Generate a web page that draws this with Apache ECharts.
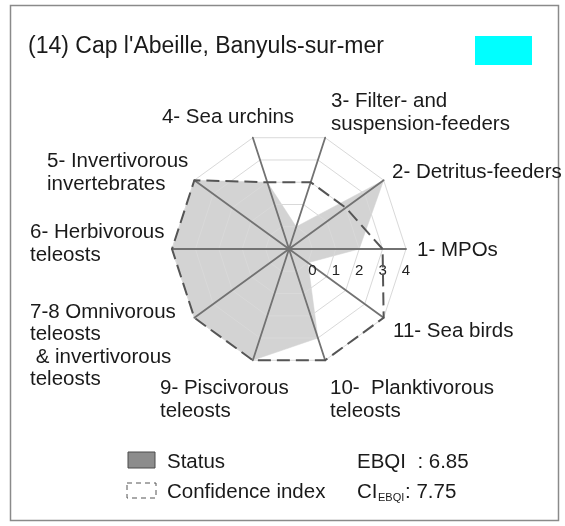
<!DOCTYPE html>
<html><head><meta charset="utf-8">
<script src="https://cdn.jsdelivr.net/npm/echarts@6/dist/echarts.min.js"></script>
<style>html,body{margin:0;padding:0;background:#fff}#c{width:565px;height:526px}</style>
</head><body><div id="c"></div>
<script>
// ---- data ----
const categories = ['1- MPOs', '2- Detritus-feeders', '3- Filter- and\nsuspension-feeders', '4- Sea urchins',
  '5- Invertivorous\ninvertebrates', '6- Herbivorous\nteleosts',
  '7-8 Omnivorous\nteleosts\n & invertivorous\nteleosts', '9- Piscivorous\nteleosts',
  '10-  Planktivorous\nteleosts', '11- Sea birds'];
const statusValues = [2, 4, 0, 2, 4, 4, 4, 4, 3, 0];
const confidenceValues = [3, 2, 2, 2, 4, 4, 4, 4, 4, 4];
const tickLabels = ['0', '1', '2', '3', '4'];
const titleText = "(14) Cap l'Abeille, Banyuls-sur-mer";
const ebqiValue = '6.85';
const ciEbqiValue = '7.75';

// ---- layout ----
const FF = "'Liberation Sans', Arial, sans-serif";
const LF = '20.5px ' + FF;
const labelPos = [
  [417, 250, 'left'], [392, 172, 'left'], [331, 113, 'left'], [228, 117, 'center'],
  [47, 173, 'left'], [30, 244, 'left'], [30, 346, 'left'], [160, 400, 'left'],
  [330, 400, 'left'], [393, 331, 'left']
];

const chart = echarts.init(document.getElementById('c'), null, {renderer: 'canvas'});
const graphics = [
  {type: 'rect', shape: {x: 10.5, y: 5.5, width: 548, height: 515}, style: {fill: null, stroke: '#8a8a8a', lineWidth: 1.5}, z: 0},
  {type: 'text', x: 28, y: 47, style: {text: titleText, font: '23px ' + FF, fill: '#1a1a1a', verticalAlign: 'middle'}},
  {type: 'rect', shape: {x: 475, y: 36, width: 57, height: 29}, style: {fill: '#00ffff'}},
  // legend
  {type: 'rect', shape: {x: 128, y: 452, width: 27, height: 16}, style: {fill: '#8c8c8c', stroke: '#4a4a4a', lineWidth: 1}},
  {type: 'rect', shape: {x: 127, y: 483, width: 29, height: 15}, style: {fill: null, stroke: '#555', lineWidth: 1, lineDash: [5, 4]}},
  {type: 'text', x: 167, y: 462, style: {text: 'Status', font: LF, fill: '#1a1a1a', verticalAlign: 'middle'}},
  {type: 'text', x: 167, y: 492, style: {text: 'Confidence index', font: LF, fill: '#1a1a1a', verticalAlign: 'middle'}},
  {type: 'text', x: 357, y: 462, style: {text: 'EBQI  : ' + ebqiValue, font: LF, fill: '#1a1a1a', verticalAlign: 'middle'}},
  {type: 'text', x: 357, y: 492, style: {text: 'CI', font: LF, fill: '#1a1a1a', verticalAlign: 'middle'}},
  {type: 'text', x: 378, y: 498, style: {text: 'EBQI', font: '11px ' + FF, fill: '#1a1a1a', verticalAlign: 'middle'}},
  {type: 'text', x: 405, y: 492, style: {text: ': ' + ciEbqiValue, font: LF, fill: '#1a1a1a', verticalAlign: 'middle'}}
];
categories.forEach((c, i) => {
  const p = labelPos[i];
  graphics.push({type: 'text', x: p[0], y: p[1], style: {text: c, font: LF, fill: '#1a1a1a', align: p[2], verticalAlign: 'middle', lineHeight: 22.5}});
});

chart.setOption({
  animation: false,
  backgroundColor: '#fff',
  radar: {
    center: [289, 249], radius: 117, startAngle: 0, splitNumber: 5, z: 2, shape: 'polygon',
    indicator: categories.map((c, i) => ({name: '', min: -1, max: 4, axisLabel: {show: i === 0}})),
    axisName: {show: false},
    axisLine: {lineStyle: {color: '#727272', width: 1.8}},
    splitLine: {lineStyle: {color: '#d9d9d9', width: 1}},
    splitArea: {show: false},
    axisTick: {show: false},
    axisLabel: {
      show: true, color: '#222', fontSize: 15, fontFamily: FF, margin: -14, verticalAlign: 'top', align: 'center',
      formatter: v => (v >= 0 ? tickLabels[Math.round(v)] : '')
    }
  },
  series: [
    {type: 'radar', z: 1, symbol: 'none', silent: true,
      data: [{value: statusValues, name: 'Status', lineStyle: {width: 0.5, color: '#d3d3d3'}, areaStyle: {color: '#d3d3d3', opacity: 1}}]},
    {type: 'radar', z: 3, symbol: 'none', silent: true,
      data: [{value: confidenceValues, name: 'Confidence index', lineStyle: {color: '#555', width: 2, type: [13, 6]}}]}
  ],
  graphic: graphics
});
</script></body></html>
